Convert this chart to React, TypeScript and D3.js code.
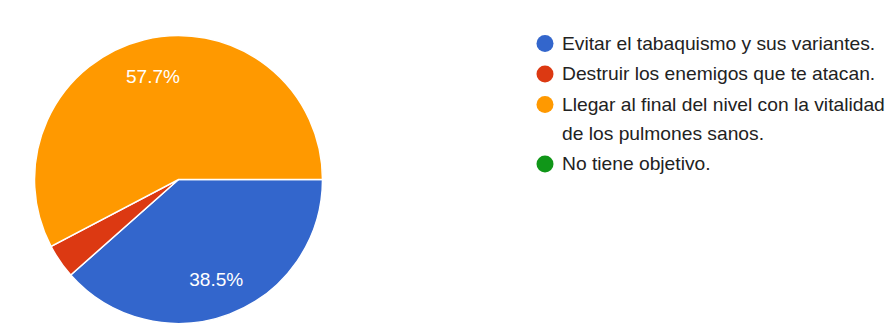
import React from "react";
import * as d3 from "d3";

const categories = [
  "Evitar el tabaquismo y sus variantes.",
  "Destruir los enemigos que te atacan.",
  "Llegar al final del nivel con la vitalidad de los pulmones sanos.",
  "No tiene objetivo.",
];
const counts = [10, 1, 15, 0];
const colors = ["#3366cc", "#dc3912", "#ff9900", "#109618"];
const legendLines = [
  ["Evitar el tabaquismo y sus variantes."],
  ["Destruir los enemigos que te atacan."],
  ["Llegar al final del nivel con la vitalidad", "de los pulmones sanos."],
  ["No tiene objetivo."],
];

const W = 894;
const H = 328;

export default function App() {
  const cx = 178.5;
  const cy = 179.5;
  const r = 144;
  const total = d3.sum(counts);
  const pie = d3
    .pie<number>()
    .sort(null)
    .value((d) => d)
    .startAngle(Math.PI / 2)
    .endAngle(Math.PI / 2 + 2 * Math.PI);
  const arcs = pie(counts);
  const arc = d3.arc<d3.PieArcDatum<number>>().innerRadius(0).outerRadius(r);
  const labelArc = d3
    .arc<d3.PieArcDatum<number>>()
    .innerRadius(r * 0.74)
    .outerRadius(r * 0.74);

  const font = "Arial, 'Liberation Sans', sans-serif";
  let y = 43.5;
  const legendItems = legendLines.map((lines, i) => {
    const item = { lines, y, i };
    y += 30.5 + (lines.length - 1) * 29;
    return item;
  });

  return (
    <svg
      width={W}
      height={H}
      style={{ position: "absolute", left: 0, top: 0, background: "#fff" }}
    >
      <rect x={0} y={0} width={W} height={H} fill="#fff" />
      <g transform={`translate(${cx},${cy})`}>
        {arcs.map((a, i) =>
          a.value > 0 ? (
            <path
              key={i}
              d={arc(a) || ""}
              fill={colors[i]}
              stroke="#fff"
              strokeWidth={1.5}
            />
          ) : null
        )}
        {arcs.map((a, i) => {
          const pct = (a.value / total) * 100;
          if (pct < 5) return null;
          const [lx, ly] = labelArc.centroid(a);
          return (
            <text
              key={"l" + i}
              x={lx}
              y={ly}
              dy="0.36em"
              textAnchor="middle"
              fill="#fff"
              fontFamily={font}
              fontSize={18}
              transform={`translate(${lx},0) scale(1.06,1) translate(${-lx},0)`}
            >
              {pct.toFixed(1) + "%"}
            </text>
          );
        })}
      </g>
      <g>
        {legendItems.map((it) => (
          <g key={it.i}>
            <circle cx={545} cy={it.y} r={8.5} fill={colors[it.i]} />
            <g transform="translate(562,0) scale(1.1,1)">
              <text
                x={0}
                y={it.y}
                fontFamily={font}
                fontSize={17.5}
                fill="#222"
                aria-label={categories[it.i]}
              >
                {it.lines.map((ln, k) => (
                  <tspan key={k} x={0} dy={k === 0 ? "0.36em" : 29}>
                    {ln}
                  </tspan>
                ))}
              </text>
            </g>
          </g>
        ))}
      </g>
    </svg>
  );
}
